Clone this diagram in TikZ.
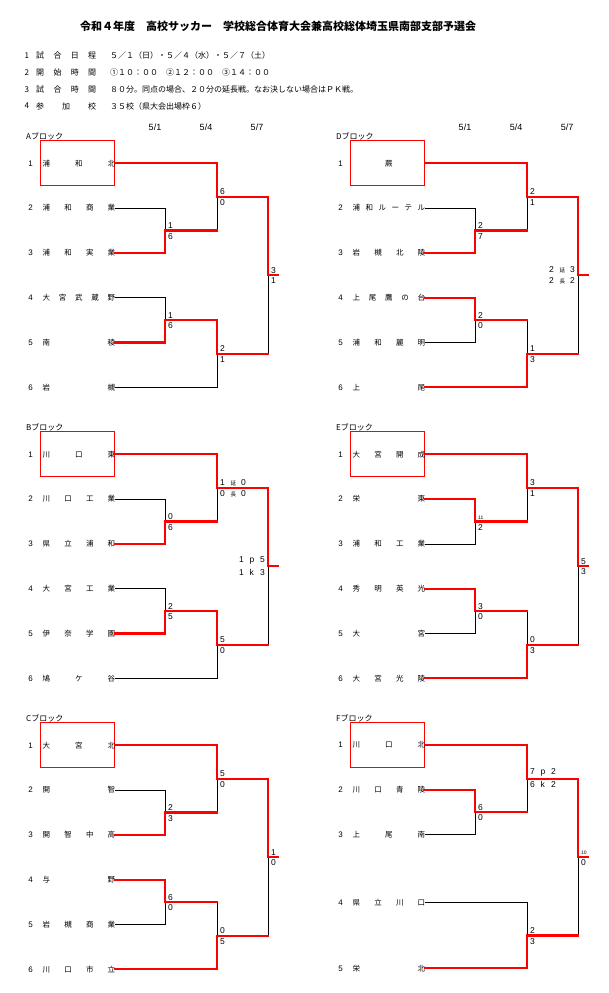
\documentclass[tikz,border=0pt]{standalone}
\usepackage{fontspec}
\setmainfont{Liberation Sans}
\newfontfamily\jp{Noto Sans CJK JP}
\usetikzlibrary{calc}

% small kanji inside a score (延, 長)
\newcommand\exch[1]{{\jp\fontsize{5.5}{6}\selectfont #1}}
% three evenly spaced score characters
\newcommand\scoretrio[3]{\makebox[10.5pt][l]{#1}\makebox[10.5pt][l]{#2}#3}
% junction points and the seed box of one block
\newcommand\blockframe[1]{%
  \coordinate (#1m1) at (165,67.2);
  \coordinate (#1m2) at (165,156.8);
  \coordinate (#1q1) at (217,33.6);
  \coordinate (#1q2) at (217,190.4);
  \coordinate (#1f) at (268,112);
  \coordinate (#1end) at (278,112);
  \draw[seed] (40,-22.5) rectangle (114.7,22.5);
}

\begin{document}
\begin{tikzpicture}[x=1pt, y=-1pt,
    team/.style={anchor=west, inner sep=0pt, text width=72.5pt, font=\jp\fontsize{7.5}{9}\selectfont},
    num/.style={inner sep=0pt, font=\fontsize{8}{9}\selectfont},
    blk/.style={anchor=west, inner sep=0pt, font=\jp\fontsize{8}{9}\selectfont},
    date/.style={inner sep=0pt, font=\fontsize{9}{10}\selectfont},
    score/.style={inner sep=0pt, font=\fontsize{8.5}{10}\selectfont},
    sctop/.style={score, anchor=south west, xshift=3pt, yshift=1.8pt},
    scbot/.style={score, anchor=north west, xshift=3pt, yshift=-2.5pt},
    scltop/.style={score, anchor=south east, xshift=-3pt, yshift=1.8pt},
    sclbot/.style={score, anchor=north east, xshift=-3pt, yshift=-2.5pt},
    smallscore/.style={font=\fontsize{5}{6}\selectfont},
    win/.style={draw=red, line width=2.2pt, line cap=rect},
    lose/.style={draw=black, line width=0.8pt},
    seed/.style={draw=red, line width=0.8pt},
    info/.style={anchor=west, inner sep=0pt, font=\jp\fontsize{8}{9}\selectfont},
    infolbl/.style={info, text width=60pt}
  ]
  \useasboundingbox (0,0) rectangle (608,993);

  % Title and rules
  \node[anchor=west, inner sep=0pt, font=\jp\bfseries\fontsize{11}{13}\selectfont] (title) at (80,26.7)
    {令和４年度　高校サッカー　学校総合体育大会兼高校総体埼玉県南部支部予選会};
  \node[info] (r1) at (24.3,55.5) {1};
  \node[infolbl] (r1l) at (36,55.5) {試\hfill 合\hfill 日\hfill 程};
  \node[info] (r1v) at (110,55.5) {５／１（日）・５／４（水）・５／７（土）};
  \node[info] (r2) at (24.3,72.3) {2};
  \node[infolbl] (r2l) at (36,72.3) {開\hfill 始\hfill 時\hfill 間};
  \node[info] (r2v) at (110,72.3) {①１０：００　②１２：００　③１４：００};
  \node[info] (r3) at (24.3,89.3) {3};
  \node[infolbl] (r3l) at (36,89.3) {試\hfill 合\hfill 時\hfill 間};
  \node[info] (r3v) at (110,89.3) {８０分。同点の場合、２０分の延長戦。なお決しない場合はＰＫ戦。};
  \node[info] (r4) at (24.3,106) {4};
  \node[infolbl] (r4l) at (36,106) {参\hfill 加\hfill 校};
  \node[info] (r4v) at (110,106) {３５校（県大会出場枠６）};

  % A block
  \begin{scope}[shift={(0,163.3)}]
    \blockframe{a}
    \node[blk] (ablk) at (26,-26.5) {Aブロック};
    \node[date] (ad1) at (155,-36) {5/1};
    \node[date] (ad2) at (206,-36) {5/4};
    \node[date] (ad3) at (257,-36) {5/7};
    \foreach \k/\y/\t in {1/0/{浦\hfill 和\hfill 北}, 2/44.8/{浦\hfill 和\hfill 商\hfill 業},
        3/89.6/{浦\hfill 和\hfill 実\hfill 業}, 4/134.4/{大\hfill 宮\hfill 武\hfill 蔵\hfill 野},
        5/179.2/{南\hfill 稜}, 6/224/{岩\hfill 槻}}{
      \node[num] (an\k) at (30.5,\y) {\k};
      \node[team] (a\k) at (42.5,\y) {\t};
    }
    \draw[lose] (a2.east) -| (am1);
    \draw[lose] (am1 -| aq1) -- (aq1);
    \draw[lose] (a4.east) -| (am2);
    \draw[lose] (a6.east) -| (aq2);
    \draw[lose] (aq2 -| af) -- (af);
    \draw[win] (a3.east) -| (am1) -- (am1 -| aq1);
    \draw[win] (a1.east) -| (aq1) -| (af) -- (aend);
    \draw[win] (a5.east) -| (am2) -| (aq2) -- (aq2 -| af);
    \node[sctop] (am1t) at (am1) {1}; \node[scbot] (am1b) at (am1) {6};
    \node[sctop] (aq1t) at (aq1) {6}; \node[scbot] (aq1b) at (aq1) {0};
    \node[sctop] (am2t) at (am2) {1}; \node[scbot] (am2b) at (am2) {6};
    \node[sctop] (aq2t) at (aq2) {2}; \node[scbot] (aq2b) at (aq2) {1};
    \node[sctop] (aft) at (af) {3}; \node[scbot] (afb) at (af) {1};
  \end{scope}

  % B block
  \begin{scope}[shift={(0,454.3)}]
    \blockframe{b}
    \node[blk] (bblk) at (26,-26.5) {Bブロック};
    \foreach \k/\y/\t in {1/0/{川\hfill 口\hfill 東}, 2/44.8/{川\hfill 口\hfill 工\hfill 業},
        3/89.6/{県\hfill 立\hfill 浦\hfill 和}, 4/134.4/{大\hfill 宮\hfill 工\hfill 業},
        5/179.2/{伊\hfill 奈\hfill 学\hfill 園}, 6/224/{鳩\hfill ケ\hfill 谷}}{
      \node[num] (bn\k) at (30.5,\y) {\k};
      \node[team] (b\k) at (42.5,\y) {\t};
    }
    \draw[lose] (b2.east) -| (bm1);
    \draw[lose] (bm1 -| bq1) -- (bq1);
    \draw[lose] (b4.east) -| (bm2);
    \draw[lose] (b6.east) -| (bq2);
    \draw[lose] (bq2 -| bf) -- (bf);
    \draw[win] (b3.east) -| (bm1) -- (bm1 -| bq1);
    \draw[win] (b1.east) -| (bq1) -| (bf) -- (bend);
    \draw[win] (b5.east) -| (bm2) -| (bq2) -- (bq2 -| bf);
    \node[sctop] (bm1t) at (bm1) {0}; \node[scbot] (bm1b) at (bm1) {6};
    \node[sctop] (bq1t) at (bq1) {\scoretrio{1}{\exch{延}}{0}};
    \node[scbot] (bq1b) at (bq1) {\scoretrio{0}{\exch{長}}{0}};
    \node[sctop] (bm2t) at (bm2) {2}; \node[scbot] (bm2b) at (bm2) {5};
    \node[sctop] (bq2t) at (bq2) {5}; \node[scbot] (bq2b) at (bq2) {0};
    \node[scltop] (bft) at (bf) {\scoretrio{1}{p}{5}};
    \node[sclbot] (bfb) at (bf) {\scoretrio{1}{k}{3}};
  \end{scope}

  % C block
  \begin{scope}[shift={(0,745.3)}]
    \blockframe{c}
    \node[blk] (cblk) at (26,-26.5) {Cブロック};
    \foreach \k/\y/\t in {1/0/{大\hfill 宮\hfill 北}, 2/44.8/{開\hfill 智},
        3/89.6/{開\hfill 智\hfill 中\hfill 高}, 4/134.4/{与\hfill 野},
        5/179.2/{岩\hfill 槻\hfill 商\hfill 業}, 6/224/{川\hfill 口\hfill 市\hfill 立}}{
      \node[num] (cn\k) at (30.5,\y) {\k};
      \node[team] (c\k) at (42.5,\y) {\t};
    }
    \draw[lose] (c2.east) -| (cm1);
    \draw[lose] (cm1 -| cq1) -- (cq1);
    \draw[lose] (c5.east) -| (cm2);
    \draw[lose] (cm2 -| cq2) -- (cq2);
    \draw[lose] (cq2 -| cf) -- (cf);
    \draw[win] (c3.east) -| (cm1) -- (cm1 -| cq1);
    \draw[win] (c1.east) -| (cq1) -| (cf) -- (cend);
    \draw[win] (c4.east) -| (cm2) -- (cm2 -| cq2);
    \draw[win] (c6.east) -| (cq2) -- (cq2 -| cf);
    \node[sctop] (cm1t) at (cm1) {2}; \node[scbot] (cm1b) at (cm1) {3};
    \node[sctop] (cq1t) at (cq1) {5}; \node[scbot] (cq1b) at (cq1) {0};
    \node[sctop] (cm2t) at (cm2) {6}; \node[scbot] (cm2b) at (cm2) {0};
    \node[sctop] (cq2t) at (cq2) {0}; \node[scbot] (cq2b) at (cq2) {5};
    \node[sctop] (cft) at (cf) {1}; \node[scbot] (cfb) at (cf) {0};
  \end{scope}

  % D block
  \begin{scope}[shift={(310,163.3)}]
    \blockframe{d}
    \node[blk] (dblk) at (26,-26.5) {Dブロック};
    \node[date] (dd1) at (155,-36) {5/1};
    \node[date] (dd2) at (206,-36) {5/4};
    \node[date] (dd3) at (257,-36) {5/7};
    \foreach \k/\y/\t in {1/0/{\hfill 蕨\hfill\mbox{}}, 2/44.8/{浦\hfill 和\hfill ル\hfill ー\hfill テ\hfill ル},
        3/89.6/{岩\hfill 槻\hfill 北\hfill 陵}, 4/134.4/{上\hfill 尾\hfill 鷹\hfill の\hfill 台},
        5/179.2/{浦\hfill 和\hfill 麗\hfill 明}, 6/224/{上\hfill 尾}}{
      \node[num] (dn\k) at (30.5,\y) {\k};
      \node[team] (d\k) at (42.5,\y) {\t};
    }
    \draw[lose] (d2.east) -| (dm1);
    \draw[lose] (dm1 -| dq1) -- (dq1);
    \draw[lose] (d5.east) -| (dm2);
    \draw[lose] (dm2 -| dq2) -- (dq2);
    \draw[lose] (dq2 -| df) -- (df);
    \draw[win] (d3.east) -| (dm1) -- (dm1 -| dq1);
    \draw[win] (d1.east) -| (dq1) -| (df) -- (dend);
    \draw[win] (d4.east) -| (dm2) -- (dm2 -| dq2);
    \draw[win] (d6.east) -| (dq2) -- (dq2 -| df);
    \node[sctop] (dm1t) at (dm1) {2}; \node[scbot] (dm1b) at (dm1) {7};
    \node[sctop] (dq1t) at (dq1) {2}; \node[scbot] (dq1b) at (dq1) {1};
    \node[sctop] (dm2t) at (dm2) {2}; \node[scbot] (dm2b) at (dm2) {0};
    \node[sctop] (dq2t) at (dq2) {1}; \node[scbot] (dq2b) at (dq2) {3};
    \node[scltop] (dft) at (df) {\scoretrio{2}{\exch{延}}{3}};
    \node[sclbot] (dfb) at (df) {\scoretrio{2}{\exch{長}}{2}};
  \end{scope}

  % E block
  \begin{scope}[shift={(310,454.3)}]
    \blockframe{e}
    \node[blk] (eblk) at (26,-26.5) {Eブロック};
    \foreach \k/\y/\t in {1/0/{大\hfill 宮\hfill 開\hfill 成}, 2/44.8/{栄\hfill 東},
        3/89.6/{浦\hfill 和\hfill 工\hfill 業}, 4/134.4/{秀\hfill 明\hfill 英\hfill 光},
        5/179.2/{大\hfill 宮}, 6/224/{大\hfill 宮\hfill 光\hfill 陵}}{
      \node[num] (en\k) at (30.5,\y) {\k};
      \node[team] (e\k) at (42.5,\y) {\t};
    }
    \draw[lose] (e3.east) -| (em1);
    \draw[lose] (em1 -| eq1) -- (eq1);
    \draw[lose] (e5.east) -| (em2);
    \draw[lose] (em2 -| eq2) -- (eq2);
    \draw[lose] (eq2 -| ef) -- (ef);
    \draw[win] (e2.east) -| (em1) -- (em1 -| eq1);
    \draw[win] (e1.east) -| (eq1) -| (ef) -- (eend);
    \draw[win] (e4.east) -| (em2) -- (em2 -| eq2);
    \draw[win] (e6.east) -| (eq2) -- (eq2 -| ef);
    \node[sctop, smallscore] (em1t) at (em1) {11}; \node[scbot] (em1b) at (em1) {2};
    \node[sctop] (eq1t) at (eq1) {3}; \node[scbot] (eq1b) at (eq1) {1};
    \node[sctop] (em2t) at (em2) {3}; \node[scbot] (em2b) at (em2) {0};
    \node[sctop] (eq2t) at (eq2) {0}; \node[scbot] (eq2b) at (eq2) {3};
    \node[sctop] (eft) at (ef) {5}; \node[scbot] (efb) at (ef) {3};
  \end{scope}

  % F block
  \begin{scope}[shift={(310,745)}]
    \blockframe{f}
    \node[blk] (fblk) at (26,-26.5) {Fブロック};
    \foreach \k/\y/\t in {1/0/{川\hfill 口\hfill 北}, 2/44.8/{川\hfill 口\hfill 青\hfill 陵},
        3/89.6/{上\hfill 尾\hfill 南}, 4/157.3/{県\hfill 立\hfill 川\hfill 口},
        5/223.3/{栄\hfill 北}}{
      \node[num] (fn\k) at (30.5,\y) {\k};
      \node[team] (f\k) at (42.5,\y) {\t};
    }
    \draw[lose] (f3.east) -| (fm1);
    \draw[lose] (fm1 -| fq1) -- (fq1);
    \draw[lose] (f4.east) -| (fq2);
    \draw[lose] (fq2 -| ff) -- (ff);
    \draw[win] (f2.east) -| (fm1) -- (fm1 -| fq1);
    \draw[win] (f1.east) -| (fq1) -| (ff) -- (fend);
    \draw[win] (f5.east) -| (fq2) -- (fq2 -| ff);
    \node[sctop] (fm1t) at (fm1) {6}; \node[scbot] (fm1b) at (fm1) {0};
    \node[sctop] (fq1t) at (fq1) {\scoretrio{7}{p}{2}};
    \node[scbot] (fq1b) at (fq1) {\scoretrio{6}{k}{2}};
    \node[sctop] (fq2t) at (fq2) {2}; \node[scbot] (fq2b) at (fq2) {3};
    \node[sctop, smallscore] (fft) at (ff) {10}; \node[scbot] (ffb) at (ff) {0};
  \end{scope}
\end{tikzpicture}
\end{document}
